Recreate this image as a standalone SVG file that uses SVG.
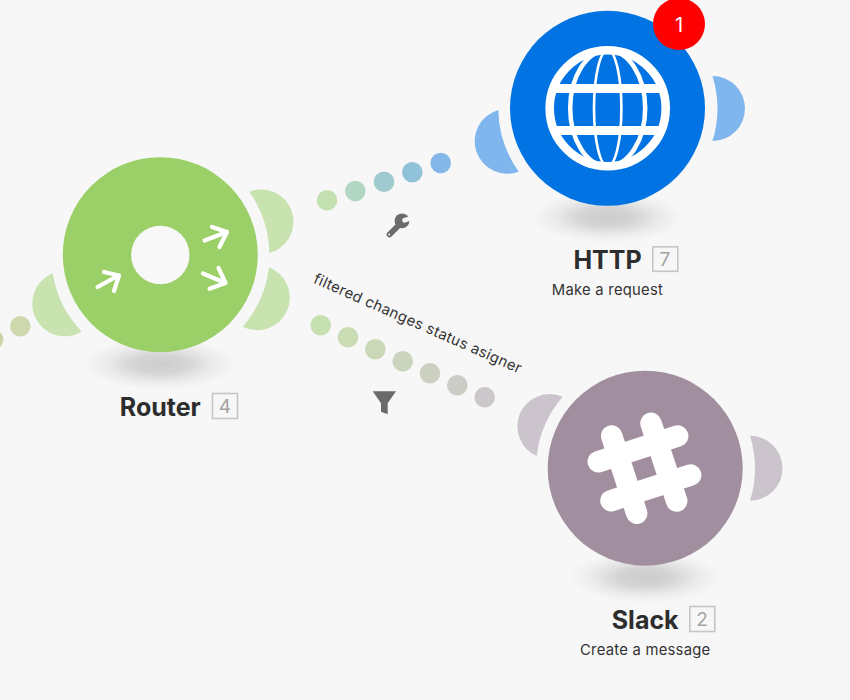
<svg xmlns="http://www.w3.org/2000/svg" width="850" height="700" viewBox="0 0 850 700">
<style>
text{font-family:Inter,"Noto Sans","Liberation Sans",sans-serif}
.title{font-size:25px;font-weight:700;fill:#2d2d2d;text-anchor:middle}
.sub{font-size:14.8px;letter-spacing:.25px;fill:#333;text-anchor:middle}
.box{fill:none;stroke:#c6c6c6;stroke-width:1.6}
.num{font-size:19px;fill:#a3a3a3;text-anchor:middle}
.rt{fill:none;stroke:#fff;stroke-width:4.2;stroke-linecap:round;stroke-linejoin:round}
.g{fill:none;stroke:#fff}
.lr{fill:#c8e3b0}.lh{fill:#7fb6ee}.ls{fill:#cbc4cc}
.ic{fill:#6b6b6b}
</style>
<defs>
<radialGradient id="sh"><stop offset="0" stop-color="#cccccc"/><stop offset=".35" stop-color="#d4d4d4"/><stop offset=".7" stop-color="#ebebeb"/><stop offset="1" stop-color="#f7f7f7"/></radialGradient>
</defs>
<rect width="850" height="700" fill="#f7f7f7"/>
<g id="connectors">
<circle cx="-7" cy="339.5" r="10.3" fill="#cdd1a6"/>
<circle cx="20.3" cy="326.3" r="10.3" fill="#ced8ad"/>
<circle cx="327" cy="200.3" r="10.3" fill="#c3e0b0"/>
<circle cx="355.3" cy="191" r="10.3" fill="#b1d6c3"/>
<circle cx="384" cy="181.7" r="10.3" fill="#9fcbce"/>
<circle cx="412.3" cy="172.3" r="10.3" fill="#90c3d9"/>
<circle cx="440.7" cy="163" r="10.3" fill="#82b7e7"/>
<circle cx="320.7" cy="325.3" r="10.3" fill="#c7e0b0"/>
<circle cx="348" cy="337.3" r="10.3" fill="#c9dcb4"/>
<circle cx="375.3" cy="349.3" r="10.3" fill="#cad8b8"/>
<circle cx="402.7" cy="361.3" r="10.3" fill="#cbd4bd"/>
<circle cx="430" cy="373.3" r="10.3" fill="#cbd0c1"/>
<circle cx="457.3" cy="385.3" r="10.3" fill="#cbccc6"/>
<circle cx="484.7" cy="397.3" r="10.3" fill="#cbc7ca"/>
<g id="wrench">
<path d="M389.5 234.5L400 224" stroke="#6b6b6b" stroke-width="5.8" stroke-linecap="round" fill="none"/>
<circle cx="402" cy="220.8" r="7.4" fill="#6b6b6b"/>
<path d="M404.5 220.3L413 217.6" stroke="#f7f7f7" stroke-width="4.6" stroke-linecap="round" fill="none"/>
<circle cx="389.3" cy="234.6" r="1" fill="#f7f7f7"/>
</g>
<path id="funnel" class="ic" d="M372.7 391.3H396L387.7 403.3V414.3L381 411.7V403.3Z"/>
<text transform="translate(312.5 282.5) rotate(23.8)" font-size="14.8" letter-spacing=".33" fill="#333">filtered changes status asigner</text>
</g>
<g id="router">
<ellipse cx="160" cy="364" rx="76" ry="26" fill="url(#sh)"/>
<path class="lr" d="M249.3 191.7A32.3 32.3 0 1 1 269.3 253A110 110 0 0 0 249.3 191.7Z"/>
<path class="lr" d="M269 267.3A32.52 32.52 0 1 1 242.7 326.7A110 110 0 0 0 269 267.3Z"/>
<path class="lr" d="M52.7 273.3A32.7 32.7 0 1 0 81.7 331.7A110 110 0 0 1 52.7 273.3Z"/>
<circle cx="160.3" cy="254.7" r="97.5" fill="#9bcf67"/>
<circle cx="160.3" cy="255" r="29.2" fill="#f8f8f8"/>
<path class="rt" d="M97.5 287L118.5 275.5M104 272L119 275.5L114 291"/>
<path class="rt" d="M204.5 240.5L227 232M212 227L227 232L219.5 247"/>
<path class="rt" d="M203 273.5L225.5 283M218.5 268L225.5 283L209.5 288.8"/>
<text class="title" x="160.3" y="416">Router</text>
<rect class="box" x="212.5" y="393.5" width="25" height="25"/>
<text class="num" x="225" y="413">4</text>
</g>
<g id="http">
<ellipse cx="607.5" cy="217" rx="76" ry="26" fill="url(#sh)"/>
<path class="lh" d="M712.5 76A32.5 32.5 0 0 1 712.5 141A110 110 0 0 0 712.5 76Z"/>
<path class="lh" d="M498.3 110A32.52 32.52 0 1 0 518.7 171.7A110 110 0 0 1 498.3 110Z"/>
<circle cx="607.5" cy="108.3" r="97.5" fill="#0273e2"/>
<circle class="g" cx="607.7" cy="108.3" r="58" stroke-width="8.6"/>
<ellipse class="g" cx="607.7" cy="108.3" rx="37.5" ry="58" stroke-width="4.5"/>
<ellipse class="g" cx="607.7" cy="108.3" rx="13.7" ry="58" stroke-width="2.6"/>
<path class="g" d="M555 88.5H661M555 130.5H661" stroke-width="8.8"/>
<circle cx="679" cy="24" r="26" fill="#fe0000"/>
<text x="679" y="32" font-size="20" fill="#fff" text-anchor="middle">1</text>
<text class="title" x="607.5" y="269">HTTP</text>
<rect class="box" x="652.8" y="246.8" width="25" height="24.5"/>
<text class="num" x="665" y="266">7</text>
<text class="sub" x="607.5" y="295">Make a request</text>
</g>
<g id="slack">
<ellipse cx="645.2" cy="577" rx="76" ry="26" fill="url(#sh)"/>
<path class="ls" d="M750 435.7A32.5 32.5 0 0 1 750 500.7A110 110 0 0 0 750 435.7Z"/>
<path class="ls" d="M562.7 396.7A32.35 32.35 0 1 0 536.7 456A110 110 0 0 1 562.7 396.7Z"/>
<circle cx="645.2" cy="468.2" r="97.5" fill="#a18e9f"/>
<path d="M611.7 436L636.7 513.3M651 423.3L676.7 501M598.3 461.7L677.7 436M611 500.7L690.7 475" fill="none" stroke="#fff" stroke-width="21.5" stroke-linecap="round"/>
<text class="title" x="645.2" y="629">Slack</text>
<rect class="box" x="689.8" y="606.5" width="25" height="25"/>
<text class="num" x="702" y="626">2</text>
<text class="sub" x="645.2" y="654.5">Create a message</text>
</g>
</svg>
